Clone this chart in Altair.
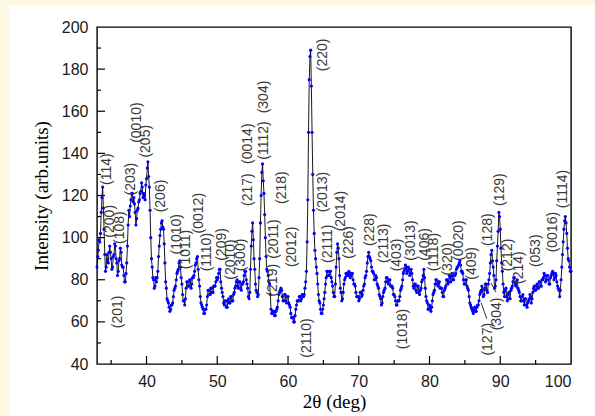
import altair as alt
import numpy as np
import pandas as pd

# Measured intensity (arb. units) on whole-fifth 2-theta steps: 33.0, 33.2, ... 100.0
intensity_even = [
    86, 94, 98, 112, 124,      # 33
    104, 84, 92, 88, 96,       # 34
    90, 86, 92, 96, 88,        # 35
    84, 90, 93, 86, 82,        # 36
    79, 88, 106, 110, 118,     # 37
    121, 119, 112, 109, 114,   # 38
    118, 122, 124, 121, 118,   # 39
    128, 136, 124, 100, 86,    # 40
    80, 77, 79, 84, 96,        # 41
    104, 108, 104, 88, 76,     # 42
    70, 67, 66, 68, 72,        # 43
    76, 80, 84, 88, 86,        # 44
    78, 70, 68, 76, 79,        # 45
    77, 80, 78, 81, 84,        # 46
    88, 91, 80, 72, 68,        # 47
    66, 64, 66, 72, 75,        # 48
    73, 76, 74, 77, 79,        # 49
    80, 83, 85, 76, 72,        # 50
    68, 70, 67, 71, 69,        # 51
    72, 70, 74, 77, 80,        # 52
    76, 79, 75, 78, 82,        # 53
    84, 78, 72, 74, 96,        # 54
    107, 90, 78, 74, 73,       # 55
    90, 120, 135, 121, 100,    # 56
    85, 82, 78, 66, 64,        # 57
    65, 63, 66, 70, 74,        # 58
    76, 72, 70, 73, 69,        # 59
    72, 68, 64, 62, 60,        # 60
    63, 68, 70, 72, 70,        # 61
    73, 72, 76, 84, 118,       # 62
    175, 189, 150, 113, 94,    # 63
    86, 78, 70, 66, 64,        # 64
    68, 74, 81, 84, 82,        # 65
    84, 79, 74, 72, 86,        # 66
    97, 90, 76, 70, 74,        # 67
    80, 83, 82, 84, 81,        # 68
    83, 80, 78, 74, 72,        # 69
    70, 74, 72, 75, 78,        # 70
    82, 88, 93, 90, 86,        # 71
    84, 80, 82, 78, 76,        # 72
    72, 68, 72, 75, 79,        # 73
    81, 78, 80, 77, 76,        # 74
    73, 70, 68, 70, 72,        # 75
    76, 80, 84, 87, 83,        # 76
    86, 82, 85, 80, 76,        # 77
    78, 74, 77, 73, 76,        # 78
    80, 85, 76, 70, 66,        # 79
    68, 65, 70, 74, 78,        # 80
    80, 77, 79, 76, 74,        # 81
    72, 76, 80, 78, 82,        # 82
    79, 83, 80, 82, 85,        # 83
    86, 88, 87, 84, 80,        # 84
    78, 80, 76, 72, 68,        # 85
    66, 64, 67, 65, 68,        # 86
    70, 74, 77, 72, 76,        # 87
    78, 74, 80, 88, 94,        # 88
    86, 76, 80, 96, 112,       # 89
    104, 88, 78, 72, 76,       # 90
    70, 74, 71, 76, 79,        # 91
    81, 77, 80, 75, 72,        # 92
    70, 73, 68, 71, 67,        # 93
    70, 73, 69, 74, 77,        # 94
    75, 78, 76, 79, 77,        # 95
    80, 83, 79, 82, 80,        # 96
    78, 82, 84, 80, 83,        # 97
    79, 76, 72, 80, 92,        # 98
    104, 110, 102, 90, 86,     # 99
    84,                        # 100
]

# Measured intensity on the in-between steps: 33.1, 33.3, ... 99.9
intensity_odd = [
    91, 99, 102, 119, 114,     # 33
    92, 86, 89, 93, 93,        # 34
    85, 91, 97, 90, 82,        # 35
    89, 95, 87, 86, 79,        # 36
    83, 96, 113, 115, 121,     # 37
    117, 116, 106, 113, 117,   # 38
    121, 126, 119, 120, 125,   # 39
    133, 129, 113, 90, 81,     # 40
    76, 81, 81, 91, 101,       # 41
    107, 105, 97, 79, 71,      # 42
    69, 65, 68, 69, 75,        # 43
    77, 83, 85, 89, 81,        # 44
    73, 70, 71, 79, 77,        # 45
    80, 76, 81, 82, 87,        # 46
    90, 85, 77, 69, 67,        # 47
    64, 66, 68, 75, 73,        # 48
    76, 74, 77, 77, 81,        # 49
    81, 85, 79, 74, 69,        # 50
    70, 67, 70, 69, 72,        # 51
    70, 73, 76, 79, 77,        # 52
    79, 76, 78, 79, 84,        # 53
    80, 76, 71, 85, 103,       # 54
    99, 85, 75, 72, 81,        # 55
    107, 131, 127, 111, 91,    # 56
    84, 79, 73, 64, 65,        # 57
    63, 65, 67, 73, 75,        # 58
    75, 70, 73, 70, 72,        # 59
    69, 67, 62, 62, 60,        # 60
    66, 70, 70, 72, 71,        # 61
    73, 73, 79, 98, 150,       # 62
    186, 172, 130, 102, 90,    # 63
    83, 73, 69, 64, 66,        # 64
    71, 78, 84, 82, 84,        # 65
    81, 77, 72, 78, 93,        # 66
    95, 82, 74, 71, 78,        # 67
    81, 83, 82, 83, 82,        # 68
    83, 78, 77, 72, 72,        # 69
    71, 74, 73, 77, 81,        # 70
    84, 91, 91, 89, 84,        # 71
    83, 80, 81, 77, 73,        # 72
    71, 69, 74, 76, 81,        # 73
    79, 80, 77, 77, 73,        # 74
    72, 68, 70, 70, 75,        # 75
    77, 83, 85, 86, 84,        # 76
    85, 83, 83, 77, 78,        # 77
    75, 77, 74, 75, 79,        # 78
    82, 81, 72, 69, 66,        # 79
    67, 67, 73, 75, 80,        # 80
    78, 79, 76, 76, 72,        # 81
    75, 77, 80, 79, 81,        # 82
    82, 80, 82, 83, 86,        # 83
    87, 89, 84, 83, 78,        # 84
    80, 77, 75, 69, 67,        # 85
    65, 66, 65, 67, 68,        # 86
    73, 75, 75, 73, 78,        # 87
    75, 78, 83, 92, 89,        # 88
    82, 77, 89, 103, 110,      # 89
    95, 84, 74, 75, 72,        # 90
    73, 71, 75, 77, 81,        # 91
    78, 79, 76, 74, 70,        # 92
    72, 70, 71, 68, 69,        # 93
    71, 72, 71, 76, 75,        # 94
    77, 76, 79, 77, 80,        # 95
    81, 82, 80, 82, 78,        # 96
    81, 83, 83, 81, 82,        # 97
    77, 75, 75, 86, 98,        # 98
    108, 107, 95, 89, 84,      # 99
]

theta_even = np.round(np.arange(33.0, 100.0001, 0.2), 1)
theta_odd = np.round(np.arange(33.1, 99.9001, 0.2), 1)
assert len(intensity_even) == len(theta_even)
assert len(intensity_odd) == len(theta_odd)

# Miller-index annotations: text, 2-theta position, intensity where the text starts
hkl_text = ["(114)", "(200)", "(108)", "(201)", "(203)", "(0010)", "(205)", "(206)",
            "(1010)", "(1011)", "(0012)", "(1110)", "(209)", "(2010)", "(300)",
            "(217)", "(0014)", "(1112)", "(304)", "(219)", "(2011)", "(218)",
            "(2012)", "(2110)", "(220)", "(2013)", "(2111)", "(2014)", "(226)",
            "(228)", "(2113)", "(403)", "(1018)", "(3013)", "(406)", "(1118)",
            "(320)", "(0020)", "(409)", "(128)", "(127)", "(304)", "(129)",
            "(212)", "(214)", "(053)", "(0016)", "(1114)"]
hkl_x = [34.4, 34.9, 36.2, 36.0, 37.8, 38.6, 39.9, 42.0,
         44.3, 45.6, 47.4, 48.6, 50.6, 52.0, 53.4,
         54.4, 54.4, 56.6, 56.6, 57.9, 58.0, 59.1,
         60.5, 62.7, 64.9, 64.9, 65.7, 67.5, 68.6,
         71.6, 73.6, 75.4, 76.3, 77.4, 79.3, 80.6,
         82.6, 84.2, 86.0, 88.2, 88.2, 89.5, 89.9,
         91.1, 92.6, 95.0, 97.5, 98.9]
hkl_y = [125, 100, 97, 57, 120, 145, 138, 112,
         92, 85, 102, 84, 89, 80, 84,
         115, 135, 137, 159, 72, 90, 116,
         86, 43, 179, 112, 88, 103, 90,
         96, 88, 84, 47, 89, 89, 84,
         82, 89, 80, 96, 44, 56, 115,
         84, 78, 86, 93, 114]

# Leader lines from the lower labels up to the pattern
lead_x = [87.3, 88.7]
lead_y = [69, 78.5]
lead_x2 = [88.1, 89.4]
lead_y2 = [61.5, 74]

x_major = [40, 50, 60, 70, 80, 90]
x_minor = [35, 45, 55, 65, 75, 85, 95]
y_major = [60, 80, 100, 120, 140, 160, 180]
y_minor = [50, 70, 90, 110, 130, 150, 170, 190]

W, H = 474, 337
CREAM = "#fdf8e4"

pattern = pd.DataFrame({
    "two_theta": np.concatenate([theta_even, theta_odd]),
    "intensity": intensity_even + intensity_odd,
}).sort_values("two_theta")
labels = pd.DataFrame({"t": hkl_text, "x": hkl_x, "y": hkl_y})
leaders = pd.DataFrame({"x": lead_x, "y": lead_y, "x2": lead_x2, "y2": lead_y2})

xs = alt.Scale(domain=[33, 100], nice=False, zero=False)
ys = alt.Scale(domain=[40, 200], nice=False, zero=False)

x_axis = alt.Axis(title="2θ (deg)", values=[40, 50, 60, 70, 80, 90, 100],
                  labelPadding=9, titlePadding=3)
y_axis = alt.Axis(title="Intensity (arb.units)", values=[40, 60, 80, 100, 120, 140, 160, 180, 200],
                  labelPadding=9, titlePadding=10)

# Cream page margin along the top and left edges
one = pd.DataFrame({"p": [0]})
margin_left = alt.Chart(one).mark_rect(color=CREAM).encode(
    x=alt.value(-97), x2=alt.value(-88), y=alt.value(-27), y2=alt.value(389)
)
margin_top = alt.Chart(one).mark_rect(color=CREAM).encode(
    x=alt.value(-97), x2=alt.value(498), y=alt.value(-27), y2=alt.value(-22)
)

line = alt.Chart(pattern).mark_line(color="black", strokeWidth=0.9).encode(
    x=alt.X("two_theta:Q", scale=xs, axis=x_axis),
    y=alt.Y("intensity:Q", scale=ys, axis=y_axis),
    order="two_theta:Q",
)
points = alt.Chart(pattern).mark_point(filled=True, shape="circle", size=10,
                                       color="#0000ff", opacity=1).encode(
    x=alt.X("two_theta:Q", scale=xs),
    y=alt.Y("intensity:Q", scale=ys),
)

leader_rules = alt.Chart(leaders).mark_rule(color="black", strokeWidth=0.8).encode(
    x=alt.X("x:Q", scale=xs), y=alt.Y("y:Q", scale=ys),
    x2="x2:Q", y2="y2:Q",
)

texts = alt.Chart(labels).mark_text(angle=270, align="left", baseline="middle",
                                    font="Liberation Sans", fontSize=14,
                                    color="#3a3a3a").encode(
    x=alt.X("x:Q", scale=xs), y=alt.Y("y:Q", scale=ys), text="t:N"
)

def x_ticks(vals, length):
    return alt.Chart(pd.DataFrame({"v": vals})).mark_rule(color="black", strokeWidth=1.2).encode(
        x=alt.X("v:Q", scale=xs), y=alt.value(H), y2=alt.value(H - length)
    )

def y_ticks(vals, length):
    return alt.Chart(pd.DataFrame({"v": vals})).mark_rule(color="black", strokeWidth=1.2).encode(
        y=alt.Y("v:Q", scale=ys), x=alt.value(0), x2=alt.value(length)
    )

chart = alt.layer(
    margin_left, margin_top, line, points, leader_rules, texts,
    x_ticks(x_major, 8), x_ticks(x_minor, 4),
    y_ticks(y_major, 8), y_ticks(y_minor, 4),
).properties(
    width=W, height=H,
    autosize=alt.AutoSizeParams(type="none"),
    padding={"left": 97, "top": 27, "right": 24, "bottom": 52},
    background="white",
).configure_view(
    stroke="black", strokeWidth=1.4, fill="white"
).configure_axis(
    grid=False, ticks=False, tickSize=0, domain=False,
    labelFont="Liberation Sans", labelFontSize=16, labelColor="#1a1a1a",
    titleFont="Liberation Serif", titleFontSize=19, titleFontWeight="normal",
    titleColor="black",
)

chart.save("out.html", embed_options={"renderer": "svg", "actions": False})
